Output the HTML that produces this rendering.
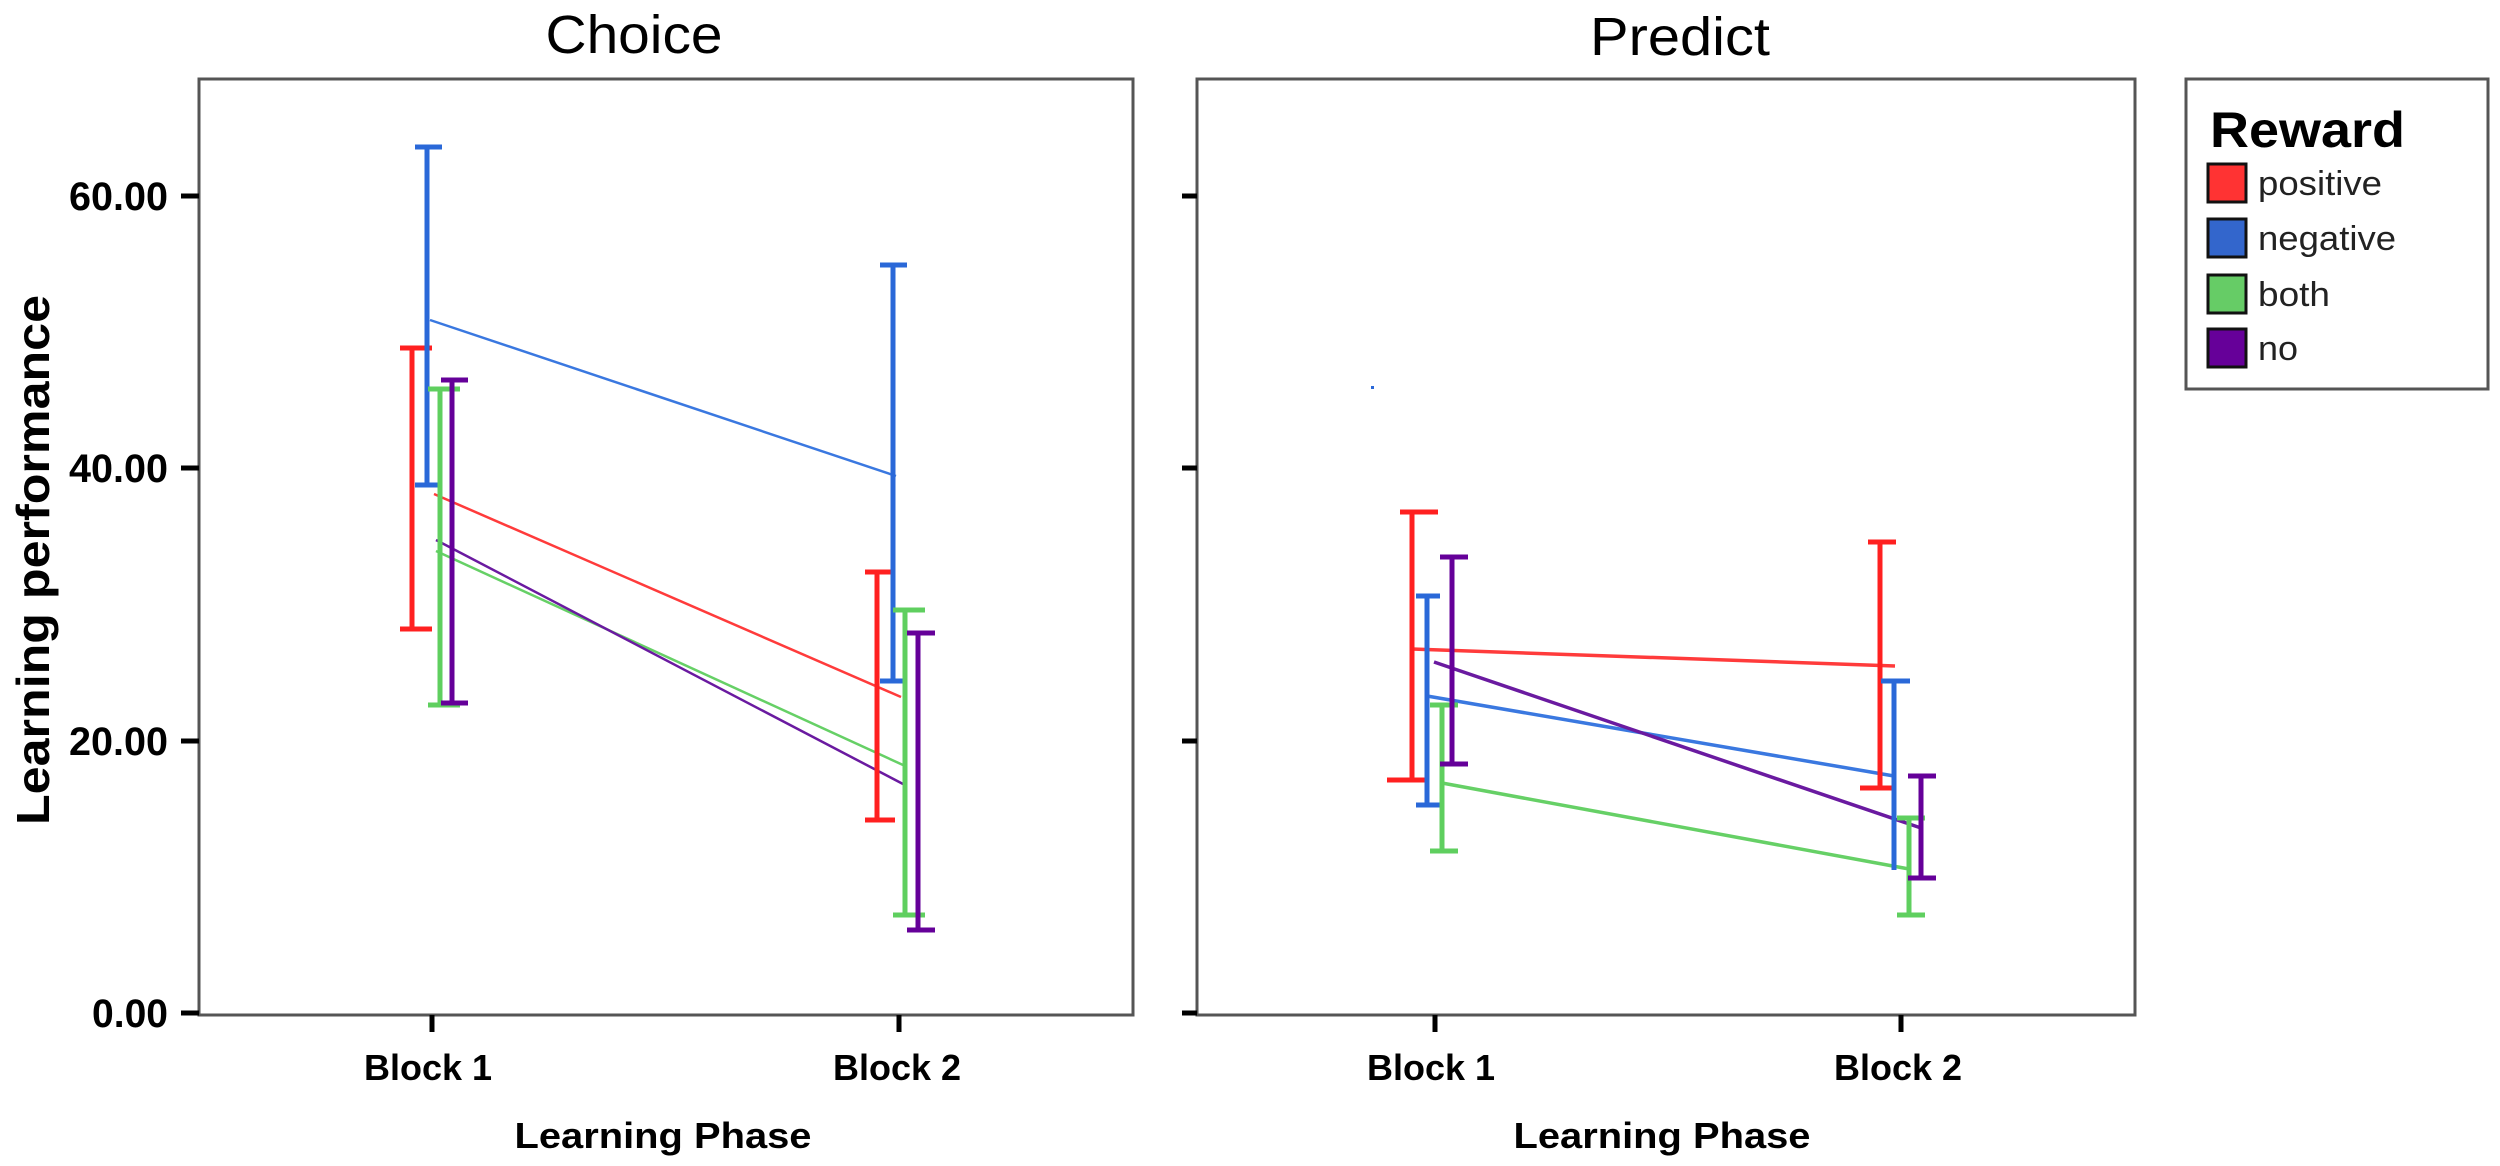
<!DOCTYPE html>
<html><head><meta charset="utf-8"><style>html,body{margin:0;padding:0;background:#fff}svg{display:block}</style></head>
<body>
<svg width="2500" height="1166" viewBox="0 0 2500 1166" xmlns="http://www.w3.org/2000/svg" font-family="Liberation Sans, Arial, sans-serif">
<rect width="2500" height="1166" fill="#fff"/>
<text x="634" y="53" font-size="54" text-anchor="middle" textLength="177" lengthAdjust="spacingAndGlyphs">Choice</text>
<text x="1680" y="55" font-size="54" text-anchor="middle" textLength="180" lengthAdjust="spacingAndGlyphs">Predict</text>
<text transform="translate(49,560) rotate(-90)" font-size="46" font-weight="bold" text-anchor="middle" textLength="530" lengthAdjust="spacingAndGlyphs">Learning  performance</text>
<rect x="199" y="79" width="934" height="936" fill="none" stroke="#555" stroke-width="3"/>
<rect x="1197" y="79" width="938" height="936" fill="none" stroke="#555" stroke-width="3"/>
<g stroke="#000" stroke-width="5">
<line x1="181" y1="196" x2="199" y2="196"/><line x1="181" y1="468" x2="199" y2="468"/><line x1="181" y1="741" x2="199" y2="741"/><line x1="181" y1="1013" x2="199" y2="1013"/>
<line x1="1182" y1="196" x2="1197" y2="196"/><line x1="1182" y1="468" x2="1197" y2="468"/><line x1="1182" y1="741" x2="1197" y2="741"/><line x1="1182" y1="1013" x2="1197" y2="1013"/>
<line x1="432" y1="1015" x2="432" y2="1032"/><line x1="899" y1="1015" x2="899" y2="1032"/>
<line x1="1435" y1="1015" x2="1435" y2="1032"/><line x1="1901" y1="1015" x2="1901" y2="1032"/>
</g>
<g font-size="40" font-weight="bold" text-anchor="end">
<text x="168" y="210" textLength="99" lengthAdjust="spacingAndGlyphs">60.00</text>
<text x="168" y="482" textLength="99" lengthAdjust="spacingAndGlyphs">40.00</text>
<text x="168" y="755" textLength="99" lengthAdjust="spacingAndGlyphs">20.00</text>
<text x="168" y="1027" textLength="76" lengthAdjust="spacingAndGlyphs">0.00</text>
</g>
<g font-size="36" font-weight="bold" text-anchor="middle">
<text x="428" y="1080" textLength="128" lengthAdjust="spacingAndGlyphs">Block 1</text>
<text x="897" y="1080" textLength="128" lengthAdjust="spacingAndGlyphs">Block 2</text>
<text x="1431" y="1080" textLength="128" lengthAdjust="spacingAndGlyphs">Block 1</text>
<text x="1898" y="1080" textLength="128" lengthAdjust="spacingAndGlyphs">Block 2</text>
<text x="663" y="1148" textLength="297" lengthAdjust="spacingAndGlyphs">Learning  Phase</text>
<text x="1662" y="1148" textLength="297" lengthAdjust="spacingAndGlyphs">Learning  Phase</text>
</g>
<g fill="none" stroke-linecap="butt">
<line x1="434" y1="494" x2="901" y2="697" stroke="#ff3b3b" stroke-width="2.5"/>
<line x1="430" y1="320" x2="896" y2="476" stroke="#3a78e0" stroke-width="2.5"/>
<line x1="436" y1="551" x2="903" y2="765" stroke="#66d066" stroke-width="2.5"/>
<line x1="436" y1="540" x2="903" y2="784" stroke="#6a1aa0" stroke-width="2.5"/>
<g stroke="#ff2020" stroke-width="5"><line x1="412" y1="348" x2="412" y2="629"/><line x1="400" y1="348" x2="432" y2="348"/><line x1="400" y1="629" x2="432" y2="629"/>
<line x1="877" y1="572" x2="877" y2="820"/><line x1="865" y1="572" x2="895" y2="572"/><line x1="865" y1="820" x2="895" y2="820"/></g>
<g stroke="#2a68d8" stroke-width="5"><line x1="427" y1="147" x2="427" y2="485"/><line x1="415" y1="147" x2="442" y2="147"/><line x1="415" y1="485" x2="442" y2="485"/>
<line x1="893" y1="265" x2="893" y2="681"/><line x1="880" y1="265" x2="907" y2="265"/><line x1="880" y1="681" x2="907" y2="681"/></g>
<g stroke="#5fcf5f" stroke-width="5"><line x1="440" y1="389" x2="440" y2="705"/><line x1="428" y1="389" x2="460" y2="389"/><line x1="428" y1="705" x2="460" y2="705"/>
<line x1="905" y1="610" x2="905" y2="915"/><line x1="893" y1="610" x2="925" y2="610"/><line x1="893" y1="915" x2="925" y2="915"/></g>
<g stroke="#650099" stroke-width="5"><line x1="452" y1="380" x2="452" y2="703"/><line x1="441" y1="380" x2="468" y2="380"/><line x1="441" y1="703" x2="468" y2="703"/>
<line x1="918" y1="633" x2="918" y2="930"/><line x1="907" y1="633" x2="935" y2="633"/><line x1="907" y1="930" x2="935" y2="930"/></g>
</g>
<g fill="none">
<line x1="1412" y1="649" x2="1895" y2="666" stroke="#ff3b3b" stroke-width="3.5"/>
<line x1="1427" y1="696" x2="1894" y2="776" stroke="#3a78e0" stroke-width="3.5"/>
<line x1="1442" y1="783" x2="1909" y2="869" stroke="#66d066" stroke-width="3.5"/>
<line x1="1434" y1="662" x2="1921" y2="828" stroke="#6a1aa0" stroke-width="3.5"/>
<g stroke="#ff2020" stroke-width="5"><line x1="1412" y1="512" x2="1412" y2="780"/><line x1="1400" y1="512" x2="1438" y2="512"/><line x1="1387" y1="780" x2="1425" y2="780"/>
<line x1="1880" y1="542" x2="1880" y2="788"/><line x1="1868" y1="542" x2="1896" y2="542"/><line x1="1860" y1="788" x2="1896" y2="788"/></g>
<g stroke="#2a68d8" stroke-width="5"><line x1="1427" y1="596" x2="1427" y2="805"/><line x1="1416" y1="596" x2="1440" y2="596"/><line x1="1416" y1="805" x2="1440" y2="805"/>
<line x1="1894" y1="681" x2="1894" y2="870"/><line x1="1881" y1="681" x2="1910" y2="681"/></g>
<g stroke="#5fcf5f" stroke-width="5"><line x1="1442" y1="705" x2="1442" y2="851"/><line x1="1430" y1="705" x2="1458" y2="705"/><line x1="1430" y1="851" x2="1458" y2="851"/>
<line x1="1909" y1="818" x2="1909" y2="915"/><line x1="1897" y1="818" x2="1925" y2="818"/><line x1="1897" y1="915" x2="1925" y2="915"/></g>
<g stroke="#650099" stroke-width="5"><line x1="1452" y1="557" x2="1452" y2="764"/><line x1="1440" y1="557" x2="1468" y2="557"/><line x1="1440" y1="764" x2="1468" y2="764"/>
<line x1="1921" y1="776" x2="1921" y2="878"/><line x1="1908" y1="776" x2="1936" y2="776"/><line x1="1908" y1="878" x2="1936" y2="878"/></g>
<rect x="1371" y="386" width="3" height="3" fill="#2a68d8" stroke="none"/>
</g>
<rect x="2186" y="79" width="302" height="310" fill="#fff" stroke="#555" stroke-width="3"/>
<text x="2210" y="147" font-size="50" font-weight="bold" textLength="195" lengthAdjust="spacingAndGlyphs">Reward</text>
<g stroke="#111" stroke-width="3">
<rect x="2208" y="164" width="38" height="38" fill="#ff3333"/>
<rect x="2208" y="219" width="38" height="38" fill="#3366cc"/>
<rect x="2208" y="275" width="38" height="38" fill="#66cc66"/>
<rect x="2208" y="329" width="38" height="38" fill="#660099"/>
</g>
<g font-size="34" fill="#222">
<text x="2258" y="195" textLength="124" lengthAdjust="spacingAndGlyphs">positive</text>
<text x="2258" y="250" textLength="138" lengthAdjust="spacingAndGlyphs">negative</text>
<text x="2258" y="306" textLength="72" lengthAdjust="spacingAndGlyphs">both</text>
<text x="2258" y="360" textLength="40" lengthAdjust="spacingAndGlyphs">no</text>
</g>
</svg>
</body></html>
